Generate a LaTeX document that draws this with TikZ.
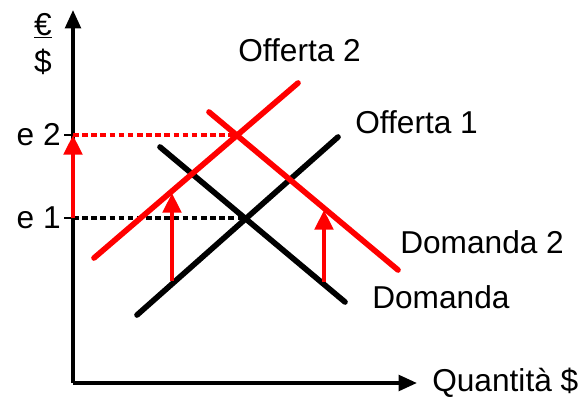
\documentclass[tikz,border=0pt]{standalone}
\usepackage{fontspec}
\setmainfont{Liberation Sans}
\usetikzlibrary{arrows.meta}
\begin{document}
\begin{tikzpicture}[x=0.025cm,y=-0.025cm,>={Triangle[width=13pt,length=14pt]},
    every node/.style={font=\fontsize{22.5}{27}\selectfont,inner sep=0pt}]
    \useasboundingbox (0,0) rectangle (582,400);
    \coordinate (O) at (73,383);
    \coordinate (Y) at (73,10);
    \coordinate (X) at (417,383);
    \coordinate (E1) at (73,218);
    \coordinate (E2) at (73,135);
    \coordinate (A) at (137,315);
    \coordinate (B) at (338,137);
    \coordinate (C) at (160,147);
    \coordinate (D) at (345,302);
    \coordinate (F) at (94,258);
    \coordinate (G) at (298,83);
    \coordinate (H) at (209,112);
    \coordinate (K) at (398,270);
    \coordinate (P1) at (248,218);
    \coordinate (P2) at (237,135);
    \coordinate (L1) at (172,281);
    \coordinate (L2) at (172,193);
    \coordinate (R1) at (324,282);
    \coordinate (R2) at (324,210);
    \draw [line width=2.6pt, ->, >={Triangle[width=11pt,length=13pt]}] (O) -- (Y);
    \draw [line width=2.6pt, ->, >={Triangle[width=11pt,length=13pt]}] (O) -- (X);
    \draw [line width=2pt] (E1) -- ++(-9,0);
    \draw [line width=2pt] (E2) -- ++(-9,0);
    \draw [line width=2.4pt, dash pattern=on 4pt off 2.5pt] (E1) -- (P1);
    \draw [line width=2.4pt, dash pattern=on 4pt off 2.5pt, red] (E2) -- (P2);
    \draw [line width=4pt, line cap=round] (A) -- (B);
    \draw [line width=4pt, line cap=round] (C) -- (D);
    \draw [line width=4pt, line cap=round, red] (F) -- (G);
    \draw [line width=4pt, line cap=round, red] (H) -- (K);
    \draw [line width=3pt, ->, red] (E1) -- (E2);
    \draw [line width=3pt, ->, red] (L1) -- (L2);
    \draw [line width=3pt, ->, red] (R1) -- (R2);
    \node (eur) at (43,26) {\underline{€}};
    \node (usd) at (43,62) {\$};
    \node [anchor=east] (e2) at (61,135) {e 2};
    \node [anchor=east] (e1) at (61,218) {e 1};
    \node [anchor=west] (off2) at (238,50) {Offerta 2};
    \node [anchor=west] (off1) at (355,122) {Offerta 1};
    \node [anchor=west] (dom2) at (400,242) {Domanda 2};
    \node [anchor=west] (dom) at (372,297) {Domanda};
    \node [anchor=west] (qty) at (432,383) {Quantità \$};
\end{tikzpicture}
\end{document}
